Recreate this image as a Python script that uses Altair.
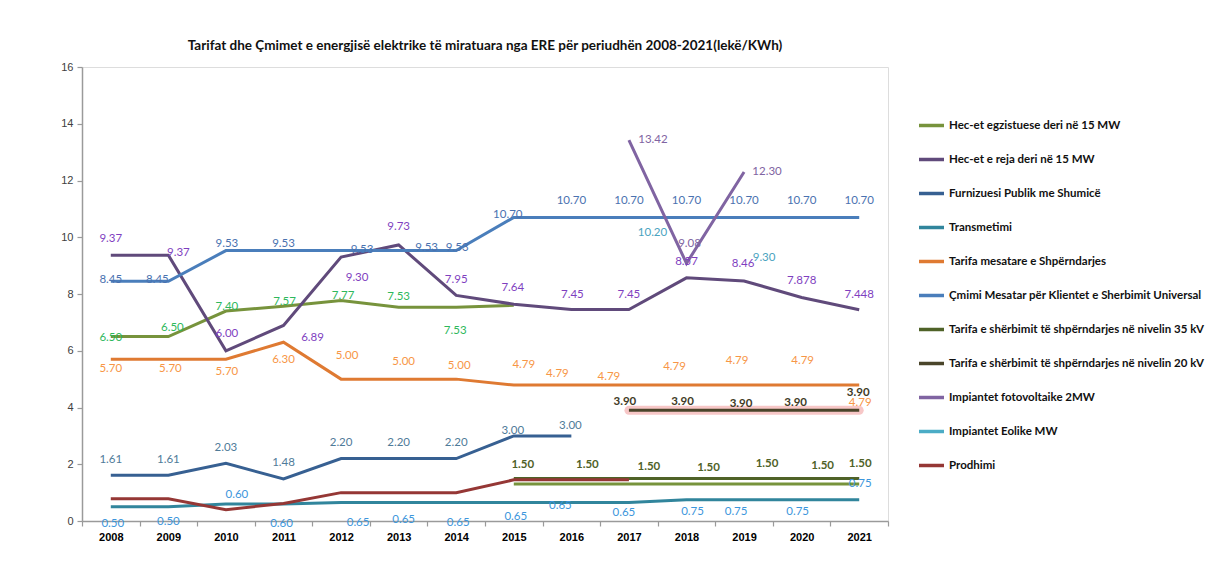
import altair as alt
import pandas as pd

N = None
YEARS = [str(y) for y in range(2008, 2022)]

SERIES = [
    "Hec-et egzistuese deri në 15 MW",
    "Hec-et e reja deri në 15 MW",
    "Furnizuesi Publik me Shumicë",
    "Transmetimi",
    "Tarifa mesatare e Shpërndarjes",
    "Çmimi Mesatar për Klientet e Sherbimit Universal",
    "Tarifa e shërbimit të shpërndarjes në nivelin 35 kV",
    "Tarifa e shërbimit të shpërndarjes në nivelin 20 kV",
    "Impiantet fotovoltaike 2MW",
    "Impiantet Eolike MW",
    "Prodhimi",
]
LINE_COLORS = ["#77933C", "#604A7B", "#376092", "#31859C", "#DF7A32", "#4A7EBB",
               "#4F6228", "#4A452A", "#8064A2", "#4BACC6", "#953735"]
LABEL_COLORS = ["#2EB85C", "#7F3FBF", "#4F7B99", "#3C96DC", "#F79646", "#4A72B0",
                "#4F6228", "#3F3B26", "#8064A2", "#4AA3C0", "#953735"]

# values (None = no value)
HEC_EGZ = [6.50, 6.50, 7.40, 7.57, 7.77, 7.53, 7.53, 7.60, N, N, N, N, N, N]
HEC_EGZ_LOW = [N, N, N, N, N, N, N, 1.30, 1.30, 1.30, 1.30, 1.30, 1.30, 1.30]
HEC_REJA = [9.37, 9.37, 6.00, 6.89, 9.30, 9.73, 7.95, 7.64, 7.45, 7.45, 8.57, 8.46, 7.878, 7.448]
FURN = [1.61, 1.61, 2.03, 1.48, 2.20, 2.20, 2.20, 3.00, 3.00, N, N, N, N, N]
TRANS = [0.50, 0.50, 0.60, 0.60, 0.65, 0.65, 0.65, 0.65, 0.65, 0.65, 0.75, 0.75, 0.75, 0.75]
SHPER = [5.70, 5.70, 5.70, 6.30, 5.00, 5.00, 5.00, 4.79, 4.79, 4.79, 4.79, 4.79, 4.79, 4.79]
CMIMI = [8.45, 8.45, 9.53, 9.53, 9.53, 9.53, 9.53, 10.70, 10.70, 10.70, 10.70, 10.70, 10.70, 10.70]
KV35 = [N, N, N, N, N, N, N, 1.50, 1.50, 1.50, 1.50, 1.50, 1.50, 1.50]
KV20 = [N, N, N, N, N, N, N, N, N, 3.90, 3.90, 3.90, 3.90, 3.90]
FOTO = [N, N, N, N, N, N, N, N, N, 13.42, 9.08, 12.30, N, N]
EOL = [N, N, N, N, N, N, N, N, N, N, 10.20, 9.30, N, N]
PROD = [0.78, 0.78, 0.40, 0.62, 1.00, 1.00, 1.00, 1.45, 1.45, 1.45, N, N, N, N]

# label placement (pixel offsets from the point), None = no label
OFF_HEC_EGZ = [(0, 1), (4, -9), (1, -4), (1, -4), (2, -5), (0, -10), (-1, 24), N, N, N, N, N, N, N]
OFF_HEC_REJA = [(0, -16), (10, -2), (1, -17), (29, 13), (16, 21), (0, -18), (0, -15), (-1, -16),
                (1, -15), (0, -15), (0, -16), (-1, -17), (0, -16), (0, -15)]
OFF_FURN = [(0, -15), (0, -15), (0, -15), (0, -16), (0, -16), (0, -16), (0, -16), (-1, -5), (-1, -10),
            N, N, N, N, N]
OFF_TRANS = [(2, 17), (0, 15), (11, -9), (-2, 20), (17, 20), (5, 17), (2, 20), (2, 14), (-11, 3),
             (-5, 10), (6, 12), (-8, 12), (-4, 12), (1, -16)]
OFF_SHPER = [(0, 10), (2, 10), (1, 13), (0, 18), (6, -23), (5, -17), (3, -13), (10, -20), (-14, -11),
             (-20, -8), (-12, -18), (-7, -24), (1, -24), (1, 18)]
OFF_CMIMI = [(0, -1), (-11, -1), (1, -7), (0, -7), (21, -1), (28, -3), (1, -3), (-6, -2),
             (0, -16), (0, -16), (0, -16), (0, -16), (0, -16), (0, -16)]
OFF_KV35 = [N, N, N, N, N, N, N, (9, -13), (16, -13), (20, -11), (22, -10), (23, -14), (21, -12), (1, -14)]
OFF_KV20 = [N, N, N, N, N, N, N, N, N, (-4, -8), (-4, -8), (-3, -6), (-6, -7), (-1, -17)]
OFF_FOTO = [N, N, N, N, N, N, N, N, N, (24, 0), (3, -19), (23, 0), N, N]
OFF_EOL = [N, N, N, N, N, N, N, N, N, N, (-34, 1), (20, 1), N, N]

PLOT_W, PLOT_H = 806, 454
Y_MAX = 16
HALF_BAND = PLOT_W / len(YEARS) / 2
PX_PER_UNIT = PLOT_H / Y_MAX

FONT = "Liberation Sans"
HUM = "Lato"


def fmt(v):
    s = f"{v:.3f}".rstrip("0")
    if len(s.split(".")[1]) < 2:
        s = f"{v:.2f}"
    return s


# ---- line data ----
line_series = [
    (SERIES[0], "a", HEC_EGZ), (SERIES[0], "b", HEC_EGZ_LOW), (SERIES[1], "a", HEC_REJA),
    (SERIES[2], "a", FURN), (SERIES[3], "a", TRANS), (SERIES[4], "a", SHPER),
    (SERIES[5], "a", CMIMI), (SERIES[6], "a", KV35), (SERIES[7], "a", KV20),
    (SERIES[8], "a", FOTO), (SERIES[10], "a", PROD),
]
rows = []
for name, seg, vals in line_series:
    for y, v in zip(YEARS, vals):
        if v is not None:
            rows.append({"series": name, "seg": name + seg, "year": y, "value": v})
lines_df = pd.DataFrame(rows)

# ---- label data ----
label_series = [
    (0, HEC_EGZ, OFF_HEC_EGZ, "normal"), (1, HEC_REJA, OFF_HEC_REJA, "normal"),
    (2, FURN, OFF_FURN, "normal"), (3, TRANS, OFF_TRANS, "normal"),
    (4, SHPER, OFF_SHPER, "normal"), (5, CMIMI, OFF_CMIMI, "normal"),
    (6, KV35, OFF_KV35, "bold"), (7, KV20, OFF_KV20, "bold"),
    (8, FOTO, OFF_FOTO, "normal"), (9, EOL, OFF_EOL, "normal"),
]
lrows = []
for idx, vals, offs, weight in label_series:
    for y, v, o in zip(YEARS, vals, offs):
        if v is not None and o is not None:
            lrows.append({"year": y, "value": v, "text": fmt(v), "dx": o[0] + HALF_BAND,
                          "dy": o[1], "lcolor": LABEL_COLORS[idx], "weight": weight})
labels_df = pd.DataFrame(lrows)

x_enc = alt.X("year:O", sort=YEARS,
              scale=alt.Scale(type="band", domain=YEARS, paddingInner=0, paddingOuter=0),
              axis=alt.Axis(title=None, labelAngle=0, tickBand="extent", grid=False,
                            labelFont=FONT, labelFontSize=11, labelFontWeight="bold",
                            labelColor="#000000", domainColor="#9a9a9a", domainWidth=1.5,
                            tickColor="#9a9a9a", tickWidth=1.2, tickSize=5, labelPadding=5))
y_axis = alt.Axis(title=None, values=list(range(0, 17, 2)), grid=False,
                  labelFont=FONT, labelFontSize=11, labelColor="#404040",
                  domainColor="#9a9a9a", domainWidth=1.5, tickColor="#9a9a9a",
                  tickWidth=1.2, tickSize=5, labelPadding=4)
y_scale = alt.Scale(domain=[0, Y_MAX], nice=False, zero=True)
y_enc = alt.Y("value:Q", scale=y_scale, axis=y_axis)

glow = alt.Chart(lines_df[lines_df["series"] == SERIES[7]]).mark_line(
    strokeWidth=9, color="#F4AFAF", opacity=0.7, strokeCap="round"
).encode(x=x_enc, y=y_enc)

lines = alt.Chart(lines_df).mark_line(strokeWidth=3).encode(
    x=x_enc, y=y_enc,
    color=alt.Color("series:N",
                    scale=alt.Scale(domain=SERIES, range=LINE_COLORS),
                    legend=alt.Legend(title=None, orient="none", legendX=835, legendY=44,
                                      symbolType="stroke", symbolSize=625, symbolStrokeWidth=3.5,
                                      labelFont=HUM, labelFontSize=11.5, labelFontWeight="bold",
                                      labelColor="#111111", labelLimit=400, rowPadding=12,
                                      labelOffset=3)),
    detail="seg:N",
)


def text_layer(weight):
    return alt.Chart(labels_df[labels_df["weight"] == weight]).transform_calculate(
        ly=f"datum.value - datum.dy / {PX_PER_UNIT}"
    ).mark_text(
        font=HUM, fontSize=11.5, fontWeight=weight, align="center", baseline="middle"
    ).encode(
        x=x_enc,
        y=alt.Y("ly:Q", scale=y_scale, axis=y_axis),
        xOffset=alt.XOffset("dx:Q", scale=None),
        text="text:N",
        color=alt.Color("lcolor:N", scale=None),
    )


chart = alt.layer(glow, lines, text_layer("normal"), text_layer("bold")).properties(
    width=PLOT_W, height=PLOT_H,
    title=alt.TitleParams(
        "Tarifat dhe Çmimet e energjisë elektrike të miratuara nga ERE  për periudhën 2008-2021(lekë/KWh)",
        font=HUM, fontSize=13.5, fontWeight="bold", color="#111111", anchor="middle", offset=9),
    autosize=alt.AutoSizeParams(type="none"),
    padding={"left": 74, "top": 59, "right": 329, "bottom": 48},
).configure_view(stroke=None).configure(background="white")

chart.save("out.html", embed_options={"renderer": "svg", "actions": False})
